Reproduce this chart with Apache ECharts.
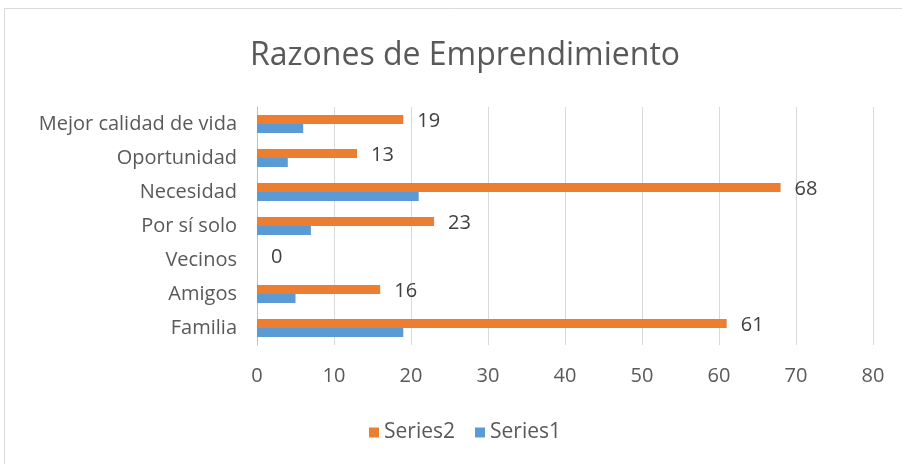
<!DOCTYPE html>
<html>
<head>
<meta charset="utf-8">
<script src="https://cdn.jsdelivr.net/npm/echarts@6/dist/echarts.min.js"></script>
<style>
  html, body { margin: 0; padding: 0; background: #fff; }
  #chart { width: 902px; height: 464px; }
</style>
</head>
<body>
<div id="chart"></div>
<script>
const categories = ["Familia", "Amigos", "Vecinos", "Por sí solo", "Necesidad", "Oportunidad", "Mejor calidad de vida"];
const series1 = [19, 5, 0, 7, 21, 4, 6];
const series2 = [61, 16, 0, 23, 68, 13, 19];
const xTicks = { min: 0, max: 80, interval: 10 };

const font = "Open Sans, sans-serif";
const textColor = "#595959";

const chart = echarts.init(document.getElementById("chart"));
chart.setOption({
  animation: false,
  textStyle: { fontFamily: font },
  title: {
    text: "Razones de Emprendimiento",
    left: 245,
    top: 35,
    textStyle: { fontFamily: font, fontSize: 32, fontWeight: "normal", color: textColor },
  },
  graphic: [
    {
      type: "rect",
      shape: { x: 4.5, y: 8.5, width: 920, height: 480 },
      style: { fill: "none", stroke: "#d9d9d9", lineWidth: 1 },
      silent: true,
    },
  ],
  legend: {
    data: ["Series2", "Series1"],
    bottom: 16,
    left: 364,
    itemWidth: 10,
    itemHeight: 10,
    itemGap: 20,
    icon: "rect",
    textStyle: { fontFamily: font, fontSize: 21, color: textColor },
  },
  grid: { left: 257, right: 29, top: 107, bottom: 119, containLabel: false },
  xAxis: {
    type: "value",
    min: xTicks.min,
    max: xTicks.max,
    interval: xTicks.interval,
    axisLine: { show: false },
    axisTick: { show: false },
    axisLabel: { fontFamily: font, fontSize: 20, color: textColor, margin: 21 },
    splitLine: { lineStyle: { color: "#d9d9d9" } },
  },
  yAxis: {
    type: "category",
    data: categories,
    axisLine: { lineStyle: { color: "#bfbfbf" } },
    axisTick: { show: false },
    axisLabel: { fontFamily: font, fontSize: 20, color: textColor, margin: 20 },
  },
  series: [
    {
      name: "Series2",
      type: "bar",
      data: series2,
      barWidth: 9,
      barGap: "0%",
      itemStyle: { color: "#ed7d31" },
      label: {
        show: true,
        position: "right",
        distance: 14,
        offset: [0, 2],
        fontFamily: font,
        fontSize: 20,
        color: "#404040",
      },
    },
    {
      name: "Series1",
      type: "bar",
      data: series1,
      barWidth: 9,
      barGap: "0%",
      itemStyle: { color: "#5b9bd5" },
    },
  ],
});
</script>
</body>
</html>
